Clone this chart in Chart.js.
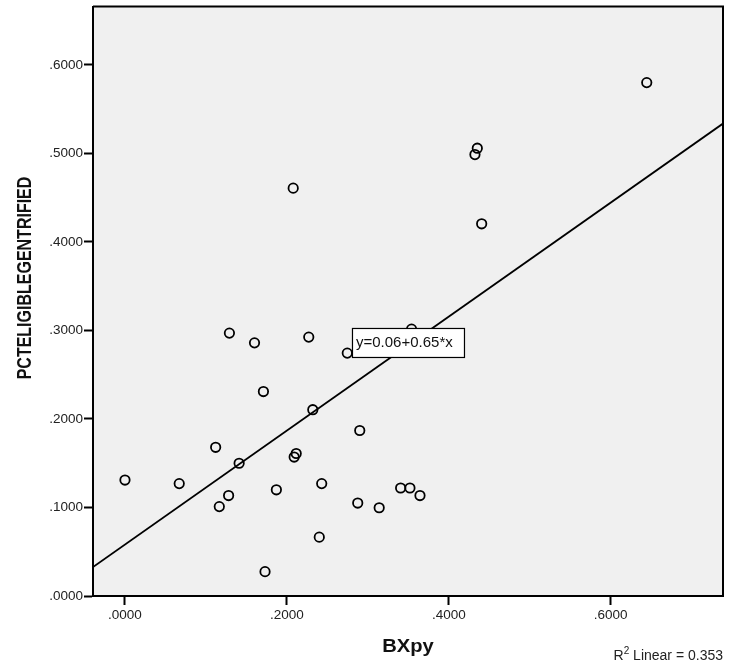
<!DOCTYPE html>
<html>
<head>
<meta charset="utf-8">
<script src="https://cdn.jsdelivr.net/npm/chart.js@4"></script>
<style>
  body { margin: 0; background: #fff; }
  #wrap { width: 740px; height: 666px; }
</style>
</head>
<body>
<div id="wrap"><canvas id="scatterChart"></canvas></div>
<script>
// values
var bxpy = [0.000, 0.067, 0.112, 0.141, 0.1165, 0.128, 0.129, 0.160, 0.171, 0.173,
            0.187, 0.209, 0.2115, 0.227, 0.232, 0.243, 0.240, 0.2746, 0.290, 0.2875,
            0.314, 0.3405, 0.352, 0.3644, 0.354, 0.6445, 0.4352, 0.4323, 0.4406, 0.2078];
var pctEligible = [0.131, 0.127, 0.168, 0.150, 0.101, 0.1135, 0.297, 0.286, 0.231, 0.0275,
                   0.120, 0.157, 0.161, 0.2925, 0.2105, 0.127, 0.0665, 0.2744, 0.187, 0.105,
                   0.0997, 0.122, 0.122, 0.1135, 0.3015, 0.580, 0.5059, 0.4987, 0.4205, 0.4608];

// fit line end points (at the plot edges)
var fitX = [-0.0395, 0.7387];
var fitY = [0.0327, 0.5337];

var xRange = [-0.0395, 0.7387];
var yRange = [0, 0.666];

var fitLabel = 'y=0.06+0.65*x';
var r2Text = '0.353';

var FONT = '"Liberation Sans", Arial, Helvetica, sans-serif';

var points = bxpy.map(function (x, i) { return { x: x, y: pctEligible[i] }; });
var linePoints = fitX.map(function (x, i) { return { x: x, y: fitY[i] }; });

function fmtTick(v) {
    return v.toFixed(4).replace(/^0/, '');
}

// plot background, frame, labels
var spssDecor = {
    id: 'spssDecor',
    beforeDraw: function (chart) {
        var a = chart.chartArea, c = chart.ctx;
        c.save();
        c.fillStyle = '#f0f0f0';
        c.fillRect(a.left, a.top, a.right - a.left, a.bottom - a.top);
        c.restore();
    },
    afterDatasetsDraw: function (chart) {
        var c = chart.ctx, xs = chart.scales.x, ys = chart.scales.y;
        // equation label box
        var bx = xs.getPixelForValue(0.2804), by = ys.getPixelForValue(0.3028);
        c.save();
        c.fillStyle = '#fff';
        c.strokeStyle = '#000';
        c.lineWidth = 1.2;
        c.fillRect(bx, by, 112, 29);
        c.strokeRect(bx + 0.5, by + 0.5, 112, 29);
        c.fillStyle = '#111';
        c.font = '15px ' + FONT;
        c.textBaseline = 'middle';
        c.fillText(fitLabel, bx + 4, by + 15);
        c.restore();
    },
    afterDraw: function (chart) {
        var a = chart.chartArea, c = chart.ctx;
        c.save();
        // top and right frame
        c.strokeStyle = '#000';
        c.lineWidth = 2;
        c.beginPath();
        c.moveTo(a.left, a.top);
        c.lineTo(a.right, a.top);
        c.lineTo(a.right, a.bottom);
        c.stroke();

        // y title
        c.fillStyle = '#111';
        c.font = 'bold 16px ' + FONT;
        c.textAlign = 'center';
        c.textBaseline = 'middle';
        c.save();
        c.translate(25, 278);
        c.rotate(-Math.PI / 2);
        c.scale(1, 1.25);
        c.fillText('PCTELIGIBLEGENTRIFIED', 0, 0);
        c.restore();

        // x title
        c.save();
        c.translate((a.left + a.right) / 2, 647);
        c.scale(1.12, 1);
        c.font = 'bold 18px ' + FONT;
        c.fillText('BXpy', 0, 0);
        c.restore();

        // R squared note
        c.font = '14px ' + FONT;
        c.fillStyle = '#222';
        c.textAlign = 'right';
        c.textBaseline = 'alphabetic';
        var rest = ' Linear = ' + r2Text;
        var wRest = c.measureText(rest).width;
        c.fillText(rest, a.right, 660);
        c.font = '10px ' + FONT;
        c.fillText('2', a.right - wRest, 654);
        var w2 = c.measureText('2').width;
        c.font = '14px ' + FONT;
        c.fillText('R', a.right - wRest - w2, 660);
        c.restore();
    }
};

var ctx = document.getElementById('scatterChart').getContext('2d');

var scatterChart = new Chart(ctx, {
    type: 'scatter',
    data: {
        datasets: [{
            label: 'PCTELIGIBLEGENTRIFIED',
            data: points,
            pointStyle: 'circle',
            pointRadius: 4.7,
            pointBorderWidth: 1.8,
            borderColor: '#000',
            backgroundColor: 'rgba(0,0,0,0)',
            order: 2
        }, {
            type: 'line',
            label: 'Fit',
            data: linePoints,
            borderColor: '#000',
            borderWidth: 1.8,
            pointRadius: 0,
            fill: false,
            order: 1
        }]
    },
    options: {
        responsive: true,
        maintainAspectRatio: false,
        animation: false,
        layout: { padding: { left: 0, right: 17, top: 5, bottom: 0 } },
        plugins: {
            legend: { display: false },
            tooltip: { enabled: false }
        },
        scales: {
            x: {
                type: 'linear',
                min: xRange[0],
                max: xRange[1],
                afterFit: function (scale) {
                    scale.height = 70;
                    scale.paddingLeft = 0;
                    scale.paddingRight = 0;
                },
                border: { display: true, color: '#000', width: 2 },
                grid: { drawOnChartArea: false, drawTicks: true, tickLength: 9, tickWidth: 2, tickColor: '#000' },
                ticks: {
                    stepSize: 0.2,
                    includeBounds: false,
                    padding: 2,
                    color: '#222',
                    font: { family: FONT, size: 13.5 },
                    maxRotation: 0,
                    callback: fmtTick
                }
            },
            y: {
                min: yRange[0],
                max: yRange[1],
                afterFit: function (scale) {
                    scale.width = 93;
                    scale.paddingTop = 0;
                    scale.paddingBottom = 0;
                },
                border: { display: true, color: '#000', width: 2 },
                grid: { drawOnChartArea: false, drawTicks: true, tickLength: 9, tickWidth: 2, tickColor: '#000' },
                ticks: {
                    stepSize: 0.1,
                    includeBounds: false,
                    padding: 1,
                    color: '#222',
                    font: { family: FONT, size: 13.5 },
                    callback: fmtTick
                }
            }
        }
    },
    plugins: [spssDecor]
});
</script>
</body>
</html>
